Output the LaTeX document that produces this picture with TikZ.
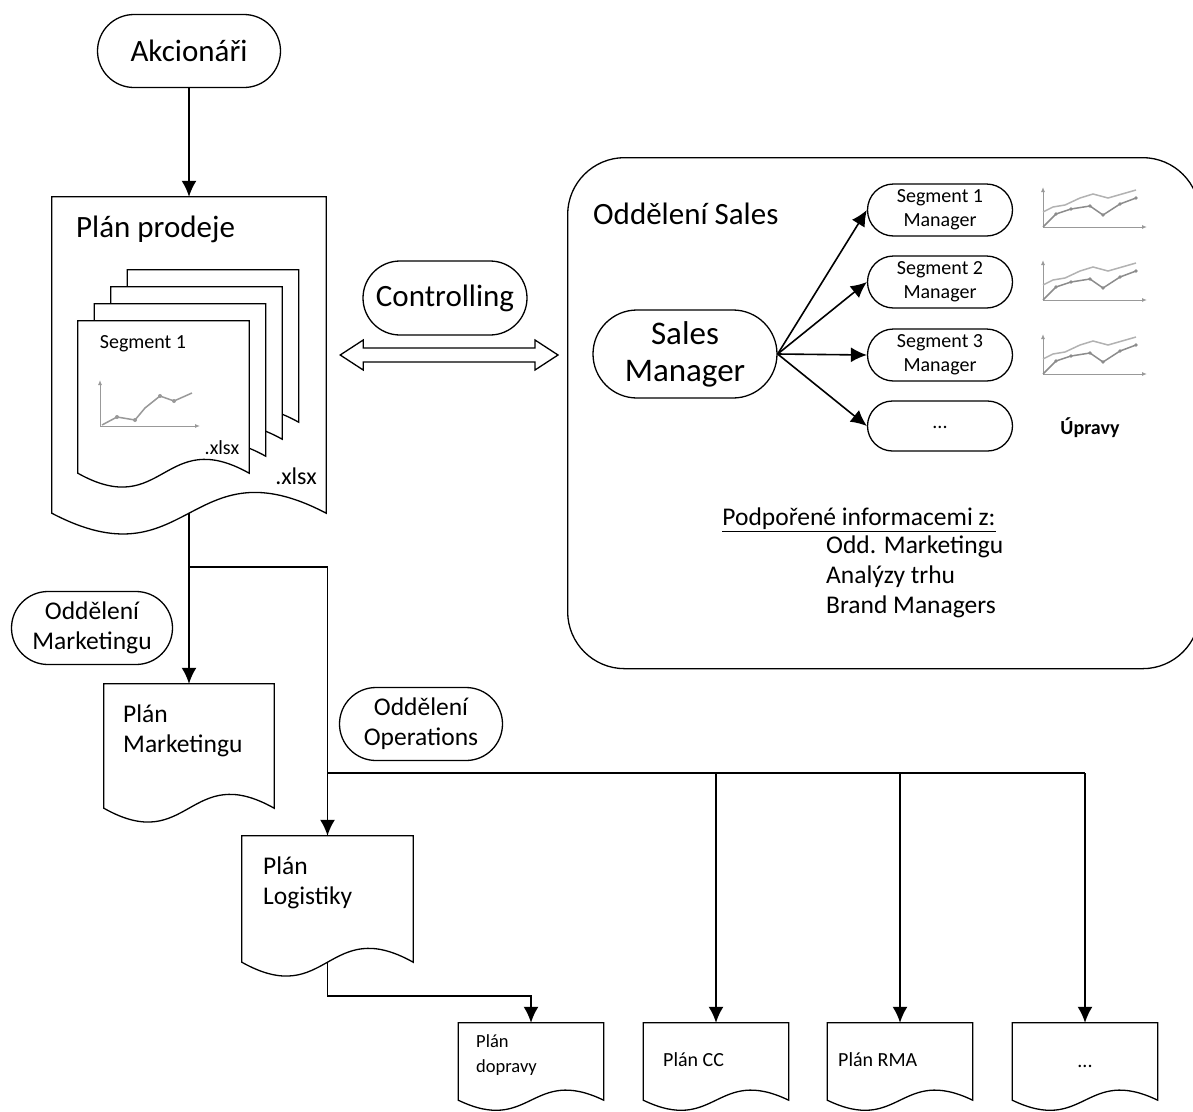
\documentclass[tikz,border=0pt]{standalone}
\usepackage{fontspec}
\setmainfont{Carlito}
\usetikzlibrary{arrows.meta,calc,shapes.misc}

\newcommand{\velke}{\fontsize{31}{37}\selectfont}
\newcommand{\stredni}{\fontsize{25.5}{30}\selectfont}
\newcommand{\male}{\fontsize{20}{24}\selectfont}

% obrys dokumentu podle uzlu: #2 = jmeno uzlu, #3 = vyska vlny
\newcommand{\listina}[3][]{%
  \draw[#1] (#2.south west) -- (#2.north west) -- (#2.north east) -- (#2.south east)
    .. controls ($(#2.south)+(0,-#3)$) and ($(#2.south)+(0,#3)$) .. (#2.south west) -- cycle;}

% maly graf vpravo
\newcommand{\graf}[1]{%
  \begin{scope}[shift={#1},gray!80,line width=1pt]
    \draw[-{Latex[length=5pt,width=4pt]}] (0,0) -- (0,-40);
    \draw[-{Latex[length=5pt,width=4pt]}] (0,0) -- (104,0);
    \draw[gray!60,line width=1.5pt] (0,-15) -- (10,-20) -- (22,-22) -- (37,-29) -- (50,-33) -- (65,-29) -- (93,-37);
    \draw[gray!90,line width=1.5pt] (0,0) -- (13,-13) -- (28,-18) -- (47,-21) -- (60,-12) -- (77,-23) -- (93,-29);
    \foreach \a/\b in {13/-13,28/-18,47/-21,60/-12,77/-23,93/-29}
      \fill[gray!90] (\a,\b) circle (1.8);
  \end{scope}}

\begin{document}
\begin{tikzpicture}[x=1pt,y=-1pt,>={Latex[length=16pt,width=15pt]},
  spoj/.style={line width=1.8pt},
  ovl/.style={rounded rectangle,draw,line width=1.3pt,align=center,inner sep=0pt},
  list/.style={rectangle,inner sep=0pt},
  popis/.style={inner sep=0pt,align=left}]
\useasboundingbox (0,0) rectangle (1193,1111);
\clip (0,0) rectangle (1193,1111);

% akcionari a plan prodeje
\node[ovl,minimum width=183pt,minimum height=73pt,font=\velke] (akc) at (189,51) {Akcionáři};
\node[list,minimum width=274pt,minimum height=316pt] (prodej) at (189,355) {};
\listina[line width=1.3pt]{prodej}{72}
\node[popis,anchor=west,font=\velke] at (76,229) {Plán prodeje};

% listy segmentu
\foreach \i in {3,2,1,0}{
  \node[list,minimum width=171pt,minimum height=152pt] (s\i) at (163.5+16.5*\i,397-17*\i) {};
  \listina[fill=white,line width=1.3pt]{s\i}{48}
}
\node[popis,font=\male] at (143,344) {Segment 1};
\begin{scope}[shift={(100,426)},gray!80,line width=1pt]
  \draw[-{Latex[length=5pt,width=4pt]}] (0,0) -- (0,-46);
  \draw[-{Latex[length=5pt,width=4pt]}] (0,0) -- (100,0);
  \draw[line width=1.5pt] (2,-1) -- (17,-9) -- (35,-6) -- (45,-18) -- (60,-30) -- (74,-25) -- (92,-33);
  \foreach \a/\b in {17/-9,35/-6,60/-30,74/-25}
    \fill (\a,\b) circle (2);
\end{scope}
\node[popis,font=\male] at (222,448) {.xlsx};
\node[popis,font=\fontsize{24}{28}\selectfont] at (296,476) {.xlsx};

% marketing a operations
\node[ovl,minimum width=161pt,minimum height=73pt,font=\stredni] (omkt) at (92,628) {Oddělení\\Marketingu};
\node[ovl,minimum width=163pt,minimum height=73pt,font=\stredni] (oops) at (421,724) {Oddělení\\Operations};

\node[list,minimum width=170pt,minimum height=124pt] (mkt) at (189,746) {};
\listina[line width=1.3pt]{mkt}{48}
\node[popis,anchor=west,font=\stredni] at (123,731) {Plán\\Marketingu};

\node[list,minimum width=171pt,minimum height=126pt] (log) at (327.5,899) {};
\listina[line width=1.3pt]{log}{48}
\node[popis,anchor=west,font=\stredni] at (263,883) {Plán\\Logistiky};

\foreach \n/\x in {doprava/531,cc/716,rma/900,nic/1085}{
  \node[list,minimum width=145pt,minimum height=77pt] (\n) at (\x,1061.5) {};
  \listina[line width=1.3pt]{\n}{35}
}
\node[popis,anchor=west,font=\fontsize{18.5}{25}\selectfont] at (476,1055) {Plán\\dopravy};
\node[popis,anchor=west,font=\male] at (663,1060) {Plán CC};
\node[popis,anchor=west,font=\male] at (838,1060) {Plán RMA};
\node[popis,font=\male] at (1085,1066) {...};

% spoje
\draw[spoj,->] (akc) -- (prodej.north);
\draw[spoj,->] (prodej.south) -- (mkt.north);
\coordinate (odb1) at (189,567);
\draw[spoj,->] (odb1) -| (log.north);
\coordinate (odb2) at (log.north |- 0,773);
\draw[spoj] (odb2) -- (odb2 -| nic.north);
\foreach \n in {cc,rma,nic}
  \draw[spoj,->] (odb2 -| \n.north) -- (\n.north);
\draw[spoj,->] (log.south) -- ++(0,34) -| (doprava.north);

% oddeleni sales
\node[draw,line width=1.3pt,rounded corners=57pt,minimum width=632pt,minimum height=511pt,
  anchor=north west,inner sep=0pt] (sales) at (567,157) {};
\node[popis,anchor=west,font=\velke] at (593,214) {Oddělení Sales};
\node[ovl,minimum width=184pt,minimum height=88pt,font=\fontsize{33}{37}\selectfont] (sm) at (685,354) {Sales\\Manager};
\node[ovl,minimum width=145pt,minimum height=52pt,font=\male] (seg1) at (940,210) {Segment 1\\Manager};
\node[ovl,minimum width=145pt,minimum height=52pt,font=\male] (seg2) at (940,282) {Segment 2\\Manager};
\node[ovl,minimum width=145pt,minimum height=52pt,font=\male] (seg3) at (940,355) {Segment 3\\Manager};
\node[ovl,minimum width=145pt,minimum height=50pt,font=\male] (segx) at (940,426) {\raisebox{-5pt}{...}};
\foreach \n in {seg1,seg2,seg3,segx}
  \draw[line width=1.6pt,->] (sm.east) -- (\n.west);
\graf{(1043,227)}
\graf{(1043,300)}
\graf{(1043,374)}
\node[popis,font=\bfseries\male] at (1090,428) {Úpravy};
\node[popis,font=\stredni] at (859,520) {\underline{Podpořené informacemi z:}};
\node[popis,anchor=west,font=\stredni] at (826,577) {Odd. Marketingu\\Analýzy trhu\\Brand Managers};

% controlling
\node[ovl,minimum width=164pt,minimum height=74pt,font=\velke] (ctrl) at (445,298) {Controlling};
\coordinate (dvL) at ([xshift=14pt]prodej.east);
\coordinate (dvR) at ([xshift=-9pt]dvL -| sales.west);
\draw[line width=1.3pt] (dvL) -- ++(23,-15) -- ++(0,8) -- ($(dvR)+(-23,-7)$) -- ++(0,-8) -- (dvR)
  -- ++(-23,15) -- ++(0,-8) -- ($(dvL)+(23,7)$) -- ++(0,8) -- cycle;
\end{tikzpicture}
\end{document}
